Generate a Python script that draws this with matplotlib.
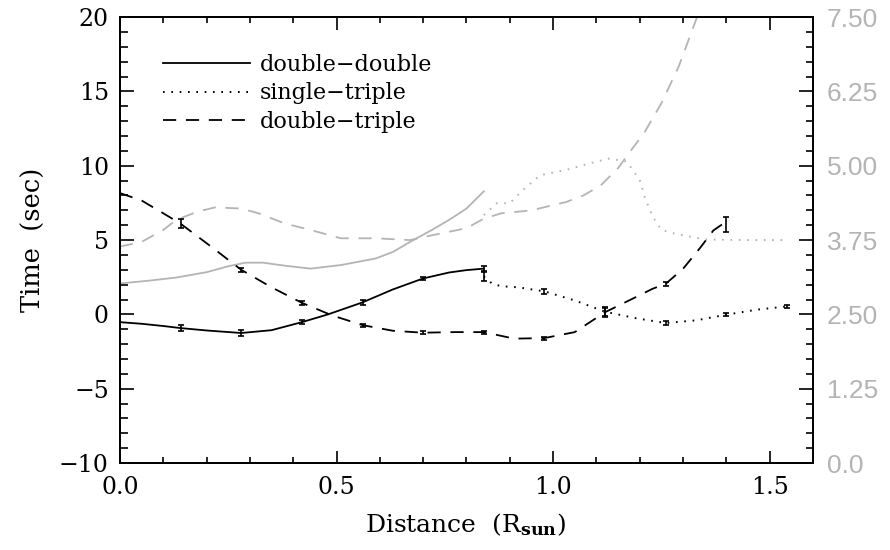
import matplotlib
matplotlib.use("Agg")
import matplotlib.pyplot as plt
from matplotlib.ticker import MultipleLocator, FixedLocator

plt.rcParams['font.family'] = ['DejaVu Serif']
plt.rcParams['mathtext.fontset'] = 'dejavuserif'
plt.rcParams['lines.scale_dashes'] = False

# black curves, left axis (sec)
dd_x = [0, 0.05, 0.10, 0.14, 0.20, 0.28, 0.35, 0.42, 0.48, 0.56, 0.63, 0.70, 0.76, 0.80, 0.84]
dd_y = [-0.52, -0.63, -0.78, -0.92, -1.08, -1.25, -1.06, -0.52, 0.0, 0.81, 1.68, 2.42, 2.82, 2.98, 3.08]
dd_px = [0.14, 0.28, 0.42, 0.56, 0.70, 0.84]
dd_py = [-0.92, -1.25, -0.52, 0.81, 2.42, 3.08]
dd_err = [0.2, 0.18, 0.15, 0.15, 0.12, 0.15]

st_x = [0.84, 0.86, 0.88, 0.92, 0.98, 1.05, 1.12, 1.19, 1.26, 1.33, 1.40, 1.47, 1.54]
st_y = [2.55, 2.05, 1.9, 1.82, 1.55, 0.94, 0.18, -0.25, -0.58, -0.4, -0.02, 0.32, 0.54]
st_px = [0.84, 0.98, 1.12, 1.26, 1.40, 1.54]
st_py = [2.55, 1.55, 0.18, -0.58, -0.02, 0.54]
st_err = [0.3, 0.15, 0.3, 0.12, 0.12, 0.12]

dt_x = [0, 0.05, 0.10, 0.14, 0.21, 0.28, 0.35, 0.42, 0.49, 0.56, 0.63, 0.70, 0.77, 0.84,
        0.91, 0.98, 1.05, 1.12, 1.19, 1.23, 1.26, 1.30, 1.34, 1.37, 1.39]
dt_y = [8.16, 7.66, 6.8, 6.1, 4.57, 3.0, 1.82, 0.78, -0.07, -0.72, -1.1, -1.23, -1.19, -1.19,
        -1.63, -1.59, -1.19, 0.15, 1.15, 1.73, 2.06, 3.07, 4.5, 5.65, 6.05]
dt_px = [0.14, 0.28, 0.42, 0.56, 0.70, 0.84, 0.98, 1.12, 1.26, 1.40]
dt_py = [6.1, 3.0, 0.78, -0.72, -1.23, -1.19, -1.59, 0.1, 2.06, 6.03]
dt_err = [0.3, 0.15, 0.15, 0.1, 0.1, 0.1, 0.1, 0.3, 0.15, 0.5]

# gray curves, right axis
g_dd_x = [0, 0.07, 0.13, 0.20, 0.25, 0.29, 0.33, 0.38, 0.44, 0.51, 0.59, 0.63, 0.67, 0.72, 0.76, 0.80, 0.84]
g_dd_y = [3.02, 3.07, 3.12, 3.21, 3.31, 3.37, 3.37, 3.32, 3.27, 3.33, 3.44, 3.55, 3.72, 3.92, 4.09, 4.28, 4.57]

g_st_x = [0.84, 0.87, 0.90, 0.93, 0.97, 1.03, 1.10, 1.13, 1.17, 1.20, 1.21, 1.23, 1.25, 1.28, 1.35, 1.45, 1.54]
g_st_y = [4.17, 4.37, 4.37, 4.59, 4.84, 4.93, 5.07, 5.12, 5.07, 4.76, 4.5, 4.14, 3.92, 3.86, 3.76, 3.75, 3.75]

g_dt_x = [0, 0.05, 0.10, 0.13, 0.18, 0.22, 0.28, 0.32, 0.38, 0.44, 0.51, 0.59, 0.67, 0.72, 0.80,
          0.84, 0.88, 0.95, 1.03, 1.07, 1.11, 1.15, 1.18, 1.21, 1.25, 1.29, 1.34]
g_dt_y = [3.64, 3.72, 3.92, 4.09, 4.23, 4.3, 4.28, 4.2, 4.03, 3.92, 3.78, 3.78, 3.75, 3.83, 3.95,
          4.11, 4.2, 4.25, 4.39, 4.5, 4.67, 4.96, 5.26, 5.55, 6.05, 6.67, 7.65]

left_ticks = [-10, -5, 0, 5, 10, 15, 20]
right_ticks = [0.0, 1.25, 2.5, 3.75, 5.0, 6.25, 7.5]
right_labels = ["0.0", "1.25", "2.50", "3.75", "5.00", "6.25", "7.50"]

gray = "#b4b4b4"
dash = (0, (9.5, 7))
dot = (0, (1.2, 4.8))

fig = plt.figure(figsize=(8.9, 5.5), dpi=100)
ax = fig.add_axes([0.1348, 0.158, 0.9135 - 0.1348, 0.969 - 0.158])
ax2 = ax.twinx()

# gray curves first
ax2.plot(g_dd_x, g_dd_y, color=gray, lw=1.3, ls='-')
ax2.plot(g_st_x, g_st_y, color=gray, lw=1.4, ls=dot)
ax2.plot(g_dt_x, g_dt_y, color=gray, lw=1.3, ls=dash)
ax2.set_ylim(0, 7.5)

l1, = ax.plot(dd_x, dd_y, color='black', lw=1.3, ls='-', label="double\u2212double")
l2, = ax.plot(st_x, st_y, color='black', lw=1.4, ls=dot, label="single\u2212triple")
l3, = ax.plot(dt_x, dt_y, color='black', lw=1.3, ls=dash, label="double\u2212triple")
for px, py, pe in [(dd_px, dd_py, dd_err), (st_px, st_py, st_err), (dt_px, dt_py, dt_err)]:
    ax.errorbar(px, py, yerr=pe, fmt='none', ecolor='black', elinewidth=1.2, capsize=2.5, capthick=1.2)

ax.set_xlim(0, 1.6)
ax.set_ylim(-10, 20)
ax.set_zorder(ax2.get_zorder() + 1)
ax.patch.set_visible(False)

ax.xaxis.set_major_locator(MultipleLocator(0.5))
ax.xaxis.set_minor_locator(MultipleLocator(0.1))
ax.yaxis.set_major_locator(FixedLocator(left_ticks))
ax.yaxis.set_minor_locator(MultipleLocator(1))
ax.xaxis.set_major_formatter(plt.FuncFormatter(lambda v, p: "%.1f" % v))

ax.tick_params(axis='x', which='major', direction='in', length=9, width=1.2, top=True, labelsize=17, pad=9)
ax.tick_params(axis='x', which='minor', direction='in', length=4.5, width=1.2, top=True)
ax.tick_params(axis='y', which='major', direction='in', length=10, width=1.2, labelsize=17, pad=8)
ax.tick_params(axis='y', which='minor', direction='in', length=6, width=1.2)

ax2.yaxis.set_major_locator(FixedLocator(right_ticks))
ax2.set_yticklabels(right_labels)
ax2.yaxis.set_minor_locator(MultipleLocator(0.25))
ax2.tick_params(axis='y', which='major', direction='in', length=10, width=1.2, labelsize=19,
                labelcolor=gray, pad=10)
ax2.tick_params(axis='y', which='minor', direction='in', length=5, width=1.2)
for lab in ax2.get_yticklabels():
    lab.set_family('Liberation Sans')

for a in (ax, ax2):
    for s in a.spines.values():
        s.set_linewidth(1.3)

ax.set_xlabel(r"Distance  (R$_{\mathbf{sun}}$)", fontsize=18)
ax.set_ylabel("Time  (sec)", fontsize=18.5)
ax.xaxis.set_label_coords(0.498, -0.108)
ax.yaxis.set_label_coords(-0.107, 0.5)

ax.legend(handles=[l1, l2, l3], loc='upper left', bbox_to_anchor=(0.062, 0.918), frameon=False,
          fontsize=16, handlelength=3.9, handletextpad=0.45, labelspacing=0.3, borderpad=0,
          borderaxespad=0)

fig.savefig("out.png", dpi=100)
